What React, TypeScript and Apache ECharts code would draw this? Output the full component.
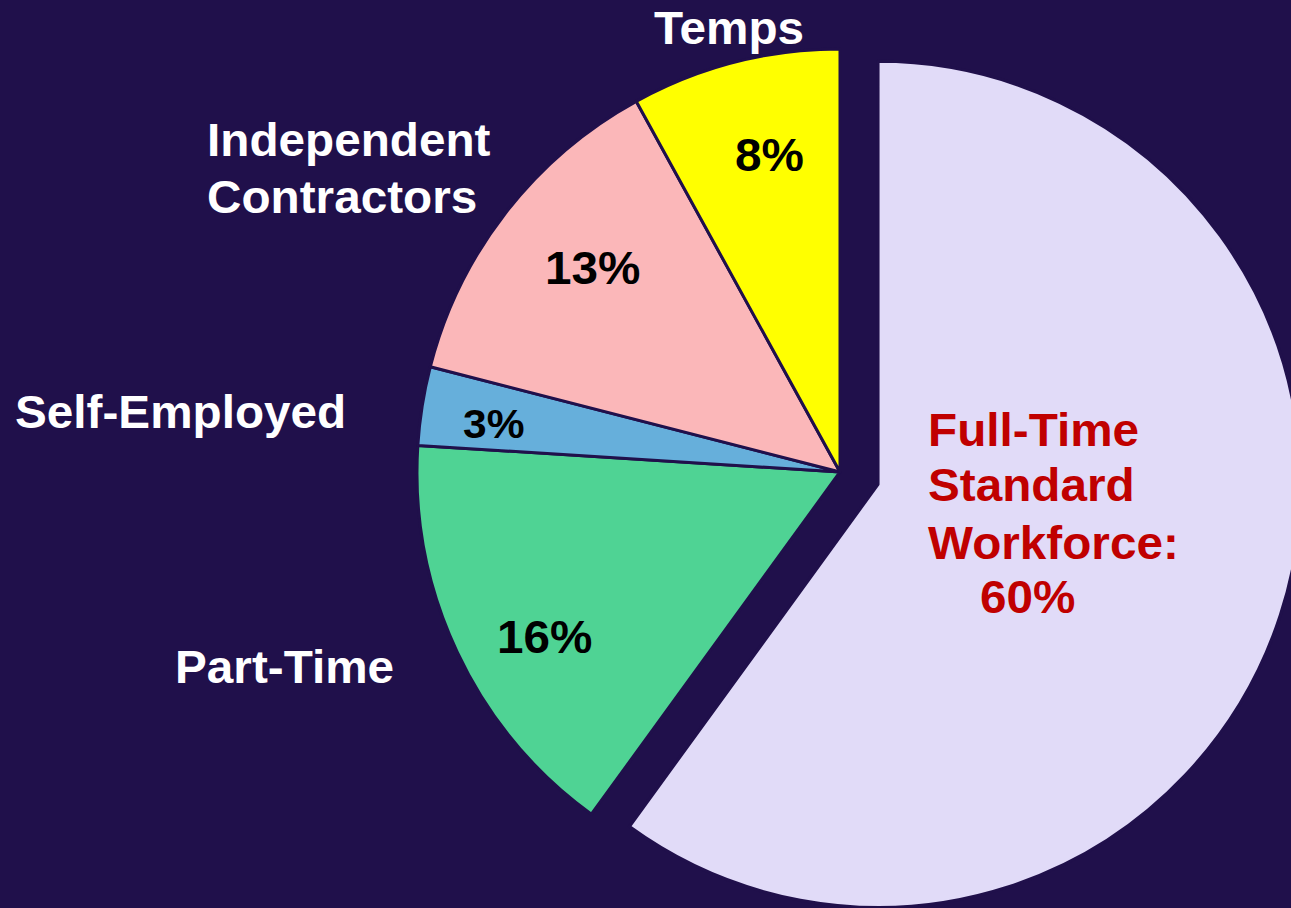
import React, { useEffect, useRef } from "react";
import * as echarts from "echarts";

const BG = "#20104b";

const categories = ["Full-Time Standard Workforce", "Part-Time", "Self-Employed", "Independent Contractors", "Temps"];
const values = [60, 16, 3, 13, 8];
const colors = ["#e1dbf8", "#4fd394", "#66afdb", "#fbb7b9", "#ffff00"];

// outside white category labels (text lines)
const outsideLabels = [
  { text: "Temps", x: 729, y: 28, align: "center" },
  { text: "Independent", x: 207, y: 140, align: "left" },
  { text: "Contractors", x: 207, y: 197, align: "left" },
  { text: "Self-Employed", x: 15, y: 412, align: "left" },
  { text: "Part-Time", x: 175, y: 667, align: "left" },
];

// inside percent labels
const percentLabels = [
  { text: "8%", x: 735, y: 155, size: 46 },
  { text: "13%", x: 545, y: 268, size: 46 },
  { text: "3%", x: 463, y: 424, size: 41 },
  { text: "16%", x: 497, y: 637, size: 46 },
];

const fullTimeLines = [
  { text: "Full-Time", x: 928, y: 430 },
  { text: "Standard", x: 928, y: 485 },
  { text: "Workforce:", x: 928, y: 543 },
  { text: "60%", x: 980, y: 597 },
];

const FONT = "'Liberation Sans', Arial, sans-serif";
const SX = 1.037;

export default function App() {
  const ref = useRef<HTMLDivElement>(null);
  useEffect(() => {
    if (!ref.current) return;
    const chart = echarts.init(ref.current, null, { renderer: "svg" });
    const graphic: any[] = [];
    const addText = (text: string, x: number, y: number, fill: string, size: number, align: string) =>
      graphic.push({
        type: "text",
        x,
        y,
        scaleX: SX,
        silent: true,
        z: 10,
        style: {
          text,
          fill,
          font: `bold ${size}px ${FONT}`,
          textAlign: align,
          textVerticalAlign: "middle",
        },
      });
    outsideLabels.forEach((l) => addText(l.text, l.x, l.y, "#ffffff", 46, l.align));
    percentLabels.forEach((l) => addText(l.text, l.x, l.y, "#000000", l.size, "left"));
    fullTimeLines.forEach((l) => addText(l.text, l.x, l.y, "#c00000", 46, "left"));
    chart.setOption({
      animation: false,
      backgroundColor: BG,
      graphic,
      series: [
        {
          type: "pie",
          center: [840, 472],
          radius: 423,
          startAngle: 90,
          clockwise: true,
          selectedMode: "single",
          selectedOffset: 40,
          silent: true,
          label: { show: false },
          labelLine: { show: false },
          emphasis: { disabled: true },
          itemStyle: { borderColor: BG, borderWidth: 3 },
          data: categories.map((name, i) => ({
            name,
            value: values[i],
            selected: i === 0,
            itemStyle: { color: colors[i] },
            select: { itemStyle: { color: colors[i], borderColor: BG, borderWidth: 3 } },
          })),
        },
      ],
    });
    return () => chart.dispose();
  }, []);
  return (
    <div
      ref={ref}
      style={{ position: "absolute", left: 0, top: 0, width: 1291, height: 908 }}
    />
  );
}
